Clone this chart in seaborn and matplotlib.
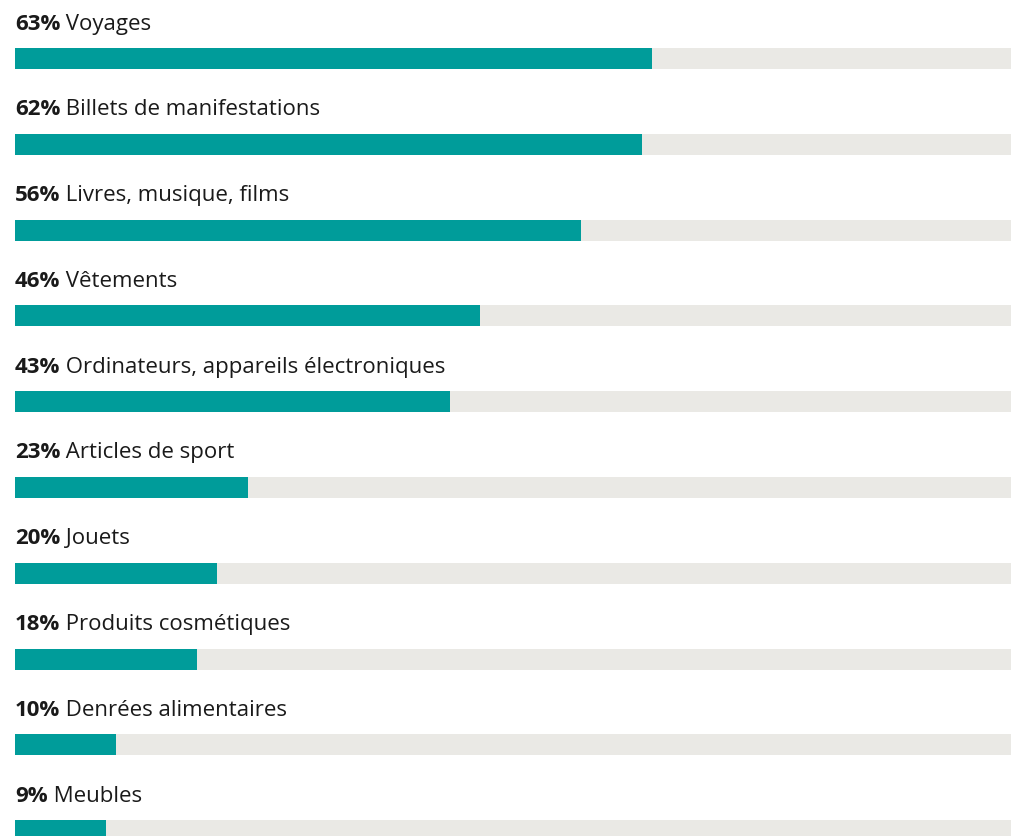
import matplotlib
matplotlib.use("Agg")
import matplotlib.pyplot as plt
import seaborn as sns
import pandas as pd

categories = [
    "Voyages",
    "Billets de manifestations",
    "Livres, musique, films",
    "Vêtements",
    "Ordinateurs, appareils électroniques",
    "Articles de sport",
    "Jouets",
    "Produits cosmétiques",
    "Denrées alimentaires",
    "Meubles",
]
shares = [63, 62, 56, 46, 43, 23, 20, 18, 10, 9]
track_total = 100

BAR_COLOR = "#009C9A"
TRACK_COLOR = "#EAE9E5"
TEXT_COLOR = "#1A1A1A"

sns.set_theme(style="white")
plt.rcParams["font.family"] = ["Open Sans", "DejaVu Sans"]

df = pd.DataFrame({"category": categories, "share": shares,
                   "total": [track_total] * len(categories)})

fig = plt.figure(figsize=(10.11, 8.36), dpi=100)
ax = fig.add_axes([0, 0, 1, 1])

bar_w = 0.245
sns.barplot(data=df, y="category", x="total", color=TRACK_COLOR,
            width=bar_w, saturation=1, linewidth=0, ax=ax, orient="h")
sns.barplot(data=df, y="category", x="share", color=BAR_COLOR,
            width=bar_w, saturation=1, linewidth=0, ax=ax, orient="h")

ax.set_xlim(-1.484, 98.52)
ax.set_ylim(9.062, -0.682)
ax.set_axis_off()

fig.canvas.draw()
renderer = fig.canvas.get_renderer()
fs = 16
for i, (cat, val) in enumerate(zip(categories, shares)):
    y = i - 0.338
    t = ax.text(0, y, f"{val}%", fontsize=fs, fontweight="bold",
                color=TEXT_COLOR, va="baseline", ha="left")
    bb = t.get_window_extent(renderer=renderer)
    x_end = ax.transData.inverted().transform((bb.x1, bb.y0))[0]
    ax.text(x_end, y, " " + cat, fontsize=fs, color=TEXT_COLOR,
            va="baseline", ha="left")

fig.savefig("out.png", dpi=100)
